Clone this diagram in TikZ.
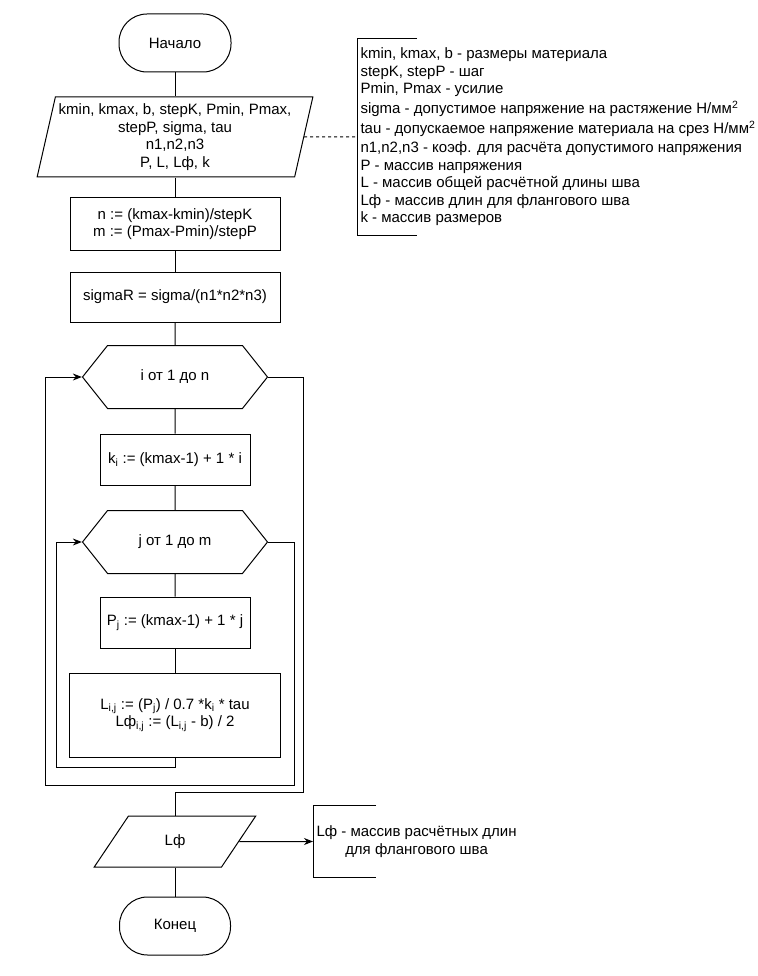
\documentclass[tikz,border=0pt]{standalone}
\usepackage{fontspec}
\setmainfont{Liberation Sans}
\usepackage{tikz}
\usetikzlibrary{shapes.geometric,shapes.symbols,arrows.meta}

\begin{document}
\begin{tikzpicture}[x=1pt, y=-1pt, line width=1pt,
  font=\fontsize{15}{17.5}\selectfont,
  >={Stealth[length=9pt,width=7pt]},
  term/.style={draw, rectangle, rounded corners=28pt, minimum width=112pt, minimum height=58pt},
  proc/.style={draw, rectangle, align=center},
  io/.style={draw, trapezium, trapezium stretches=true, align=center},
  limit/.style={draw, signal, signal to=west and east, signal pointer angle=103, minimum width=185pt, minimum height=63pt},
  note/.style={inner sep=3pt}]
  \useasboundingbox (0,0) rectangle (757,976);

  \node[term] (start) at (175,43) {Начало};
  \node[io, trapezium left angle=76, trapezium right angle=104, minimum width=275pt, minimum height=80pt] (in) at (175,137) {kmin, kmax, b, stepK, Pmin, Pmax,\\ stepP, sigma, tau\\ n1,n2,n3\\ P, L, Lф, k};
  \node[proc, minimum width=210pt, minimum height=53pt] (calc) at (175,224) {n := (kmax-kmin)/stepK\\ m := (Pmax-Pmin)/stepP};
  \node[proc, minimum width=210pt, minimum height=50pt] (sig) at (175,297) {sigmaR = sigma/(n1*n2*n3)};
  \node[limit] (li) at (175,377) {i от 1 до n};
  \node[proc, minimum width=150pt, minimum height=51pt] (kb) at (175,459.5) {k\textsubscript{i} := (kmax-1) + 1 * i};
  \node[limit] (lj) at (175,542) {j от 1 до m};
  \node[proc, minimum width=150pt, minimum height=51pt] (pb) at (175,622.5) {P\textsubscript{j} := (kmax-1) + 1 * j};
  \node[proc, minimum width=211pt, minimum height=84pt] (lb) at (175,715) {L\textsubscript{i,j} := (P\textsubscript{j}) / 0.7 *k\textsubscript{i} * tau\\ Lф\textsubscript{i,j} := (L\textsubscript{i,j} - b) / 2};
  \node[io, trapezium left angle=64, trapezium right angle=116, minimum width=162pt, minimum height=51pt] (out) at (175,841.5) {Lф};
  \node[term, minimum width=111pt] (stop) at (175,926) {Конец};

  \node[note, anchor=west, align=left, minimum height=196pt] (legend) at (357,137) {kmin, kmax, b - размеры материала\\ stepK, stepP - шаг\\ Pmin, Pmax - усилие\\[2.5pt] sigma - допустимое напряжение на растяжение Н/мм\textsuperscript{2}\\[2.5pt] tau - допускаемое напряжение материала на срез Н/мм\textsuperscript{2}\\[1.5pt] n1,n2,n3 - коэф. для расчёта допустимого напряжения\\ P - массив напряжения\\ L - массив общей расчётной длины шва\\ Lф - массив длин для флангового шва\\ k - массив размеров};
  \node[note, anchor=west, align=center, minimum height=71pt] (outnote) at (313,841.5) {Lф - массив расчётных длин\\ для флангового шва};

  \draw ([xshift=60pt]legend.north west) -- (legend.north west) -- (legend.south west) -- ++(60,0);
  \draw ([xshift=63pt]outnote.north west) -- (outnote.north west) -- (outnote.south west) -- ++(63,0);

  \draw (start) -- (in);
  \draw (in) -- (calc);
  \draw (calc) -- (sig);
  \draw (sig) -- (li);
  \draw (li) -- (kb);
  \draw (kb) -- (lj);
  \draw (lj) -- (pb);
  \draw (pb) -- (lb);
  \draw (out) -- (stop);
  \draw[dash pattern=on 3pt off 3pt] (in.east) -- (legend.west);
  \draw[->] (out.east) -- (outnote.west);

  \draw[->] (lb.south) -- ++(0,10) -| ([xshift=-25pt]lj.west) -- (lj.west);
  \draw[->] (lj.east) -- ++(26,0) |- ([yshift=-28pt]lb.south) -| ([xshift=-36pt]li.west) -- (li.west);
  \draw (li.east) -- ++(35,0) |- ([yshift=23pt]out.north) -- (out.north);
\end{tikzpicture}
\end{document}
